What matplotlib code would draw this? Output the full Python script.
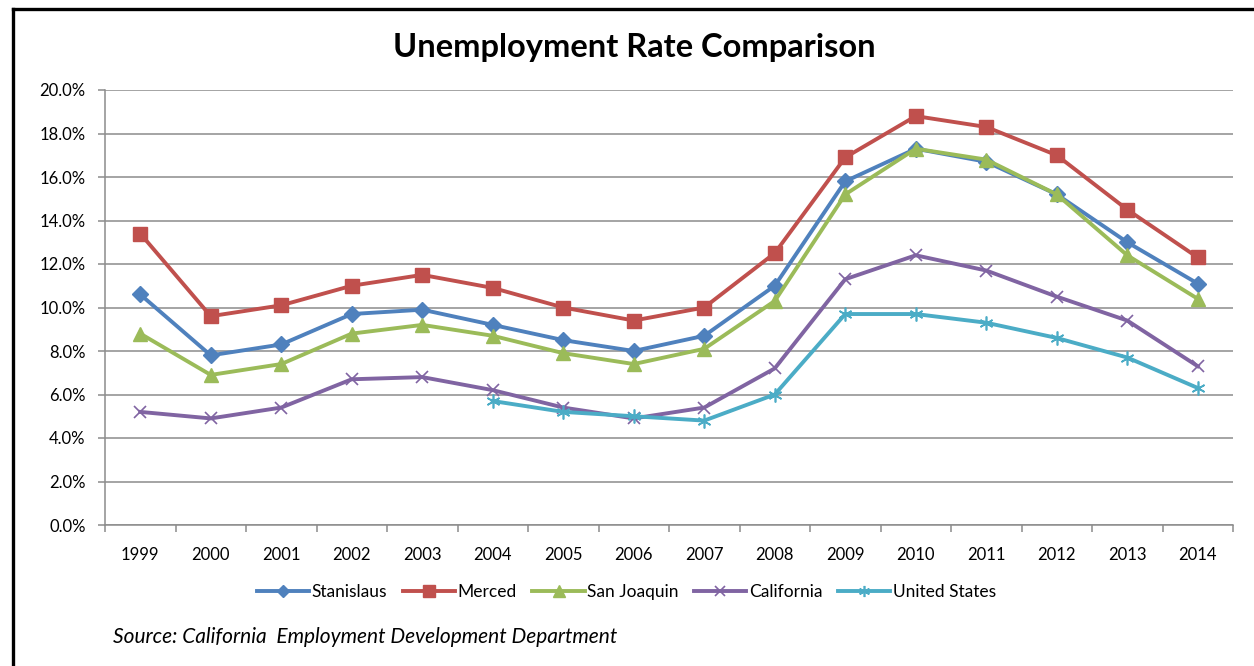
import numpy as np
import matplotlib
matplotlib.use("Agg")
import matplotlib.pyplot as plt
from matplotlib.lines import Line2D
from matplotlib.ticker import FuncFormatter, FixedLocator

plt.rcParams['font.family'] = ['Lato', 'DejaVu Sans']

# === Data (percent) ===
years = ["1999", "2000", "2001", "2002", "2003", "2004", "2005", "2006",
         "2007", "2008", "2009", "2010", "2011", "2012", "2013", "2014"]
stanislaus = [10.6, 7.8, 8.3, 9.7, 9.9, 9.2, 8.5, 8.0, 8.7, 11.0, 15.8, 17.3, 16.7, 15.2, 13.0, 11.1]
merced = [13.4, 9.6, 10.1, 11.0, 11.5, 10.9, 10.0, 9.4, 10.0, 12.5, 16.9, 18.8, 18.3, 17.0, 14.5, 12.3]
san_joaquin = [8.8, 6.9, 7.4, 8.8, 9.2, 8.7, 7.9, 7.4, 8.1, 10.3, 15.2, 17.3, 16.8, 15.2, 12.4, 10.4]
california = [5.2, 4.9, 5.4, 6.7, 6.8, 6.2, 5.4, 4.9, 5.4, 7.2, 11.3, 12.4, 11.7, 10.5, 9.4, 7.3]
us_years = ["2004", "2005", "2006", "2007", "2008", "2009", "2010", "2011", "2012", "2013", "2014"]
united_states = [5.7, 5.2, 5.0, 4.8, 6.0, 9.7, 9.7, 9.3, 8.6, 7.7, 6.3]

x = np.arange(len(years))
x_us = np.array([years.index(y) for y in us_years])

fig = plt.figure(figsize=(12.54, 6.66), dpi=100)
ax = fig.add_axes([105 / 1254, 1 - 525 / 666, 1128 / 1254, 435 / 666])

lw = 2.8
ax.plot(x, stanislaus, color="#4F81BD", lw=lw, marker="D", ms=8, label="Stanislaus", zorder=3)
ax.plot(x, merced, color="#C0504D", lw=lw, marker="s", ms=10, label="Merced", zorder=3)
ax.plot(x, san_joaquin, color="#9BBB59", lw=lw, marker="^", ms=10, label="San Joaquin", zorder=3)
ax.plot(x, california, color="#8064A2", lw=lw, marker="x", ms=9, mew=1.2, label="California", zorder=3)
ax.plot(x_us, united_states, color="#4BACC6", lw=lw, marker=(6, 2, 0), ms=10, mew=1.2,
        label="United States", zorder=3)

ax.set_xlim(-0.5, len(years) - 0.5)
ax.set_ylim(0, 20)
ax.set_yticks(np.arange(0, 20.1, 2))
ax.yaxis.set_major_formatter(FuncFormatter(lambda v, p: f"{v:.1f}%"))
ax.set_xticks(x)
ax.set_xticklabels(years)
ax.xaxis.set_minor_locator(FixedLocator(np.arange(-0.5, len(years), 1)))

grid_c = "#8c8c8c"
ax.grid(axis="y", color=grid_c, lw=1.1, zorder=0)
for s in ["top", "right"]:
    ax.spines[s].set_visible(False)
for s in ["left", "bottom"]:
    ax.spines[s].set_color(grid_c)
    ax.spines[s].set_linewidth(1.1)

ax.tick_params(axis="x", which="major", length=0, pad=16, labelsize=12)
ax.tick_params(axis="x", which="minor", length=5, color=grid_c, width=1.1)
ax.tick_params(axis="y", length=5, color=grid_c, width=1.1, pad=9, labelsize=12)

fig.text(0.5056, 1 - 48 / 666, "Unemployment Rate Comparison", ha="center", va="center",
         fontsize=23.5, fontweight="bold")

handles, labels = ax.get_legend_handles_labels()
fig.legend(handles, labels, loc="center", bbox_to_anchor=(0.4996, 1 - 592 / 666), ncol=5,
           frameon=False, fontsize=12.5, handlelength=3.0, handletextpad=0.15, columnspacing=0.9,
           markerscale=0.8)

fig.text(113 / 1254, 1 - 637 / 666, "Source: California  Employment Development Department",
         ha="left", va="center", fontsize=15, style="italic")

# black frame (left and top edges)
fig.add_artist(Line2D([13 / 1254, 13 / 1254], [0, 1 - 9 / 666], color="black", lw=2.4,
                      transform=fig.transFigure))
fig.add_artist(Line2D([13 / 1254, 1], [1 - 9 / 666, 1 - 9 / 666], color="black", lw=2.4,
                      transform=fig.transFigure))

fig.savefig("out.png", dpi=100)
